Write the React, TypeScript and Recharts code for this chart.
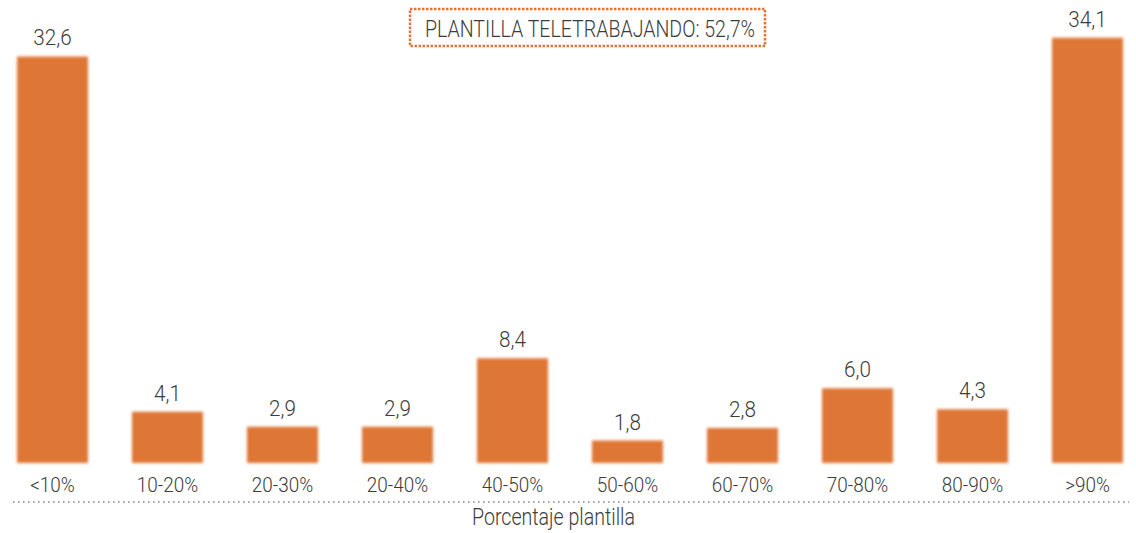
import React from 'react';
import { BarChart, Bar, XAxis, YAxis, LabelList } from 'recharts';

const categories = ['<10%', '10-20%', '20-30%', '20-40%', '40-50%', '50-60%', '60-70%', '70-80%', '80-90%', '>90%'];
const values = [32.6, 4.1, 2.9, 2.9, 8.4, 1.8, 2.8, 6.0, 4.3, 34.1];
const titleText = 'PLANTILLA TELETRABAJANDO: 52,7%';
const axisTitle = 'Porcentaje plantilla';

const data = categories.map((c, i) => ({ name: c, value: values[i] }));

const FONT = 'Roboto, "Liberation Sans", sans-serif';
const ORANGE = '#DE7634';
const TEXT = '#3c3c3c';

const fmt = (v: number) => v.toFixed(1).replace('.', ',');

const Tick = (props: any) => {
  const { x, y, payload } = props;
  return (
    <g transform={`translate(${x},${y}) scale(0.9,1)`}>
      <text x={0} y={0} dy={21} textAnchor="middle" fill={TEXT} fontSize={21} fontWeight={300} fontFamily={FONT}>
        {payload.value}
      </text>
    </g>
  );
};

const ValueLabel = (props: any) => {
  const { x, y, width, value } = props;
  const cx = Number(x) + Number(width) / 2;
  return (
    <g transform={`translate(${cx},${Number(y) - 11}) scale(0.92,1)`}>
      <text x={0} y={0} textAnchor="middle" fill={TEXT} fontSize={22.5} fontWeight={300} fontFamily={FONT}>
        {fmt(Number(value))}
      </text>
    </g>
  );
};

export default function App() {
  return (
    <div style={{ position: 'absolute', left: 0, top: 0, width: 1136, height: 533, background: '#fff', overflow: 'hidden' }}>
      <BarChart
        width={1136}
        height={533}
        data={data}
        margin={{ top: 14, right: -9, bottom: 10, left: -5 }}
        barSize={71}
      >
        <defs>
          <filter id="soft" x="-10%" y="-10%" width="120%" height="120%">
            <feGaussianBlur stdDeviation="1.5" />
          </filter>
        </defs>
        <XAxis
          dataKey="name"
          axisLine={false}
          tickLine={false}
          tickSize={6}
          tickMargin={2}
          height={60}
          interval={0}
          tick={<Tick />}
        />
        <YAxis hide domain={[0, 36]} />
        <Bar dataKey="value" fill={ORANGE} isAnimationActive={false} style={{ filter: 'url(#soft)' }}>
          <LabelList dataKey="value" content={<ValueLabel />} />
        </Bar>
      </BarChart>
      <svg width={1136} height={533} style={{ position: 'absolute', left: 0, top: 0, pointerEvents: 'none' }}>
        <line x1={13} x2={1129} y1={502} y2={502} stroke="#8a8a8a" strokeWidth={1.6} strokeDasharray="1.6 3.4" />
        <text x={553.5} y={525} textAnchor="middle" fill={TEXT} fontSize={23.5} fontWeight={300} fontFamily={FONT}
          textLength={163} lengthAdjust="spacingAndGlyphs">
          {axisTitle}
        </text>
        <rect x={410} y={9} width={355} height={37} fill="none" stroke={ORANGE} strokeWidth={2.5} strokeDasharray="2.5 1.5" />
        <text x={590} y={36.5} textAnchor="middle" fill={TEXT} fontSize={24.5} fontWeight={300} fontFamily={FONT}
          textLength={330} lengthAdjust="spacingAndGlyphs">
          {titleText}
        </text>
      </svg>
    </div>
  );
}
